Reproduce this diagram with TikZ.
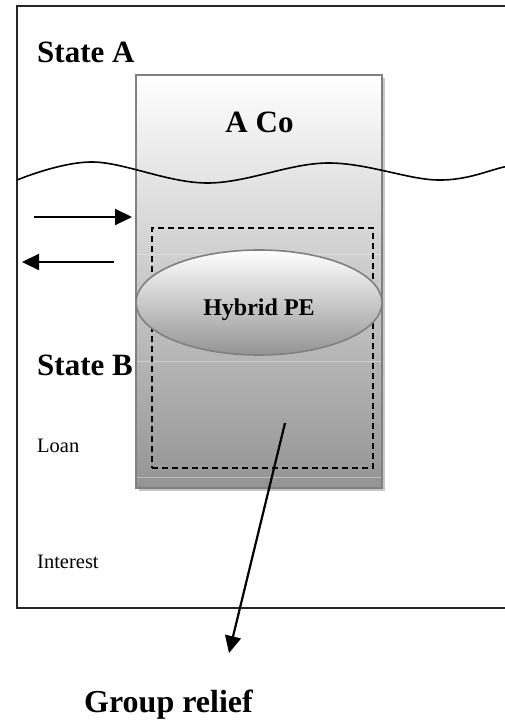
\documentclass[tikz,border=0pt]{standalone}
\usepackage{fontspec}
\setmainfont{Liberation Serif}
\usetikzlibrary{arrows.meta,shapes.geometric,shadows}
\begin{document}
\begin{tikzpicture}[x=1pt,y=1pt,
  biglbl/.style={inner sep=0pt, font=\bfseries\fontsize{31}{31}\selectfont, text=black},
  smalllbl/.style={anchor=base west, inner sep=0pt, font=\fontsize{20.5}{20.5}\selectfont, text=black},
  arr/.style={-{Triangle[length=17pt,width=16pt]}, line width=2.2pt, black},
  faint/.style={white, opacity=0.35, line width=0.8pt},
]
\useasboundingbox (0,0) rectangle (504,-720);
% outer frame (right side beyond the page)
\draw[line width=1.9pt, black!85] (17,-6) rectangle (530,-608);
% A Co box
\node[draw=black!50, line width=1.8pt, top color=white, bottom color=black!42,
      minimum width=246pt, minimum height=413pt, inner sep=0pt,
      drop shadow={shadow xshift=3pt, shadow yshift=-3pt, fill=black!22, opacity=1}]
      (aco) at (259,-281.5) {};
\draw[faint] (137,-254) -- (381,-254);
\draw[faint] (137,-361) -- (381,-361);
\draw[faint] (137,-477) -- (381,-477);
% dashed group rectangle
\node[draw=black, dash pattern=on 6pt off 4pt, line width=1.6pt,
      minimum width=221pt, minimum height=240pt, inner sep=0pt] (grp) at (262.5,-348) {};
% hybrid PE ellipse
\node[ellipse, draw=black!50, line width=1.6pt, top color=white, bottom color=black!42,
      minimum width=246pt, minimum height=105pt, inner sep=0pt] (pe) at (259,-302.5) {};
\node[biglbl, anchor=base, font=\bfseries\fontsize{24}{24}\selectfont] (pelbl) at (259,-315) {Hybrid PE};
% labels
\node[biglbl, anchor=base] (acolbl) at (259.5,-132) {A Co};
\node[biglbl, anchor=base west] (sa) at (37,-62) {State A};
\node[biglbl, anchor=base west] (sb) at (37,-375) {State B};
\node[smalllbl] (loan) at (37,-452) {Loan};
\node[smalllbl] (int) at (37,-568) {Interest};
\node[biglbl, anchor=base west, font=\bfseries\fontsize{32}{32}\selectfont] (gr) at (84,-712) {Group relief};
% border wave
\draw[line width=1.6pt, black] plot[smooth, tension=0.6] coordinates
  {(17,-180) (93,-162) (207,-183) (327,-163) (437,-180) (504,-167) (530,-160)};
% arrows
\coordinate (r1) at (34,-217);
\coordinate (r2) at (132,-217);
\coordinate (l1) at (114,-262);
\coordinate (l2) at (22,-262);
\coordinate (g1) at (285,-423);
\coordinate (g2) at (229,-653);
\draw[arr] (r1) -- (r2);
\draw[arr] (l1) -- (l2);
\draw[arr] (g1) -- (g2);
\end{tikzpicture}
\end{document}
